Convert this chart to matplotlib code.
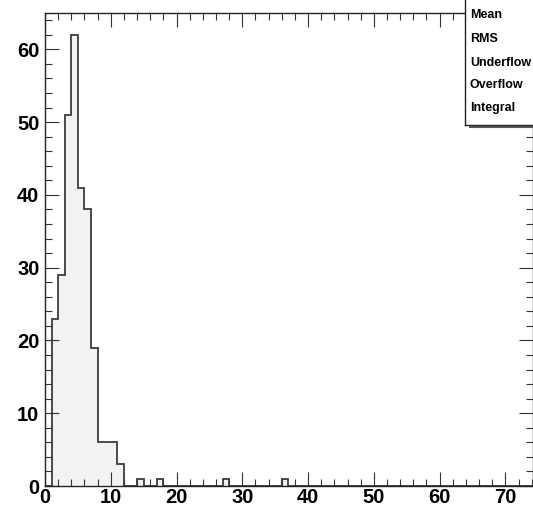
import numpy as np
import matplotlib.pyplot as plt
import matplotlib as mpl
from matplotlib.ticker import MultipleLocator

# histogram contents (unit-width bins starting at bin_low)
bin_low = [1, 2, 3, 4, 5, 6, 7, 8, 9, 10, 11, 14, 17, 27, 36]
counts = [23, 29, 51, 62, 41, 38, 19, 6, 6, 6, 3, 1, 1, 1, 1]
n_bins = 74
stat_names = ["Mean", "RMS", "Underflow", "Overflow", "Integral"]

mpl.rcParams["font.family"] = ["Liberation Sans", "DejaVu Sans"]
mpl.rcParams["font.weight"] = "bold"

fig = plt.figure(figsize=(5.33, 5.09), dpi=100)
ax = fig.add_axes([45 / 533, 23 / 509, 488 / 533, 473 / 509])

edges = np.arange(0, n_bins + 1)
values = np.zeros(n_bins)
values[bin_low] = counts

ax.stairs(values, edges, fill=True, color="#f2f2f2", baseline=0)
ax.stairs(values, edges, color="#3c3c3c", linewidth=1.3, baseline=0)

ax.set_xlim(0, 74.2)
ax.set_ylim(0, 65)

ax.xaxis.set_major_locator(MultipleLocator(10))
ax.xaxis.set_minor_locator(MultipleLocator(2))
ax.yaxis.set_major_locator(MultipleLocator(10))
ax.yaxis.set_minor_locator(MultipleLocator(2))
ax.tick_params(which="both", direction="in", top=True, right=True, width=0.8, color="#333333")
ax.tick_params(which="major", length=10)
ax.tick_params(which="minor", length=5)
ax.tick_params(axis="x", labelsize=14.5, pad=1.5)
ax.tick_params(axis="y", labelsize=14.5, pad=4)
for lab in ax.get_xticklabels() + ax.get_yticklabels():
    lab.set_fontweight("bold")
for sp in ax.spines.values():
    sp.set_linewidth(1.0)
    sp.set_color("#222222")

# stats box in the top right corner
box = fig.add_axes([465 / 533, 1 - 125 / 509, 80 / 533, 130 / 509])
box.set_xticks([])
box.set_yticks([])
box.set_xlim(0, 1)
box.set_ylim(0, 1)
box.patch.set_facecolor("white")
for sp in box.spines.values():
    sp.set_linewidth(1.0)
    sp.set_color("#222222")
ys = [110, 86, 62.5, 39.5, 17.5]
for name, y in zip(stat_names, ys):
    box.text(5 / 80, y / 130, name, fontsize=9, fontweight="bold", va="center", ha="left")
fig.add_artist(plt.Line2D([470 / 533, 1], [1 - 127 / 509, 1 - 127 / 509], color="#555555", linewidth=1.5))

fig.savefig("out.png", dpi=100)
